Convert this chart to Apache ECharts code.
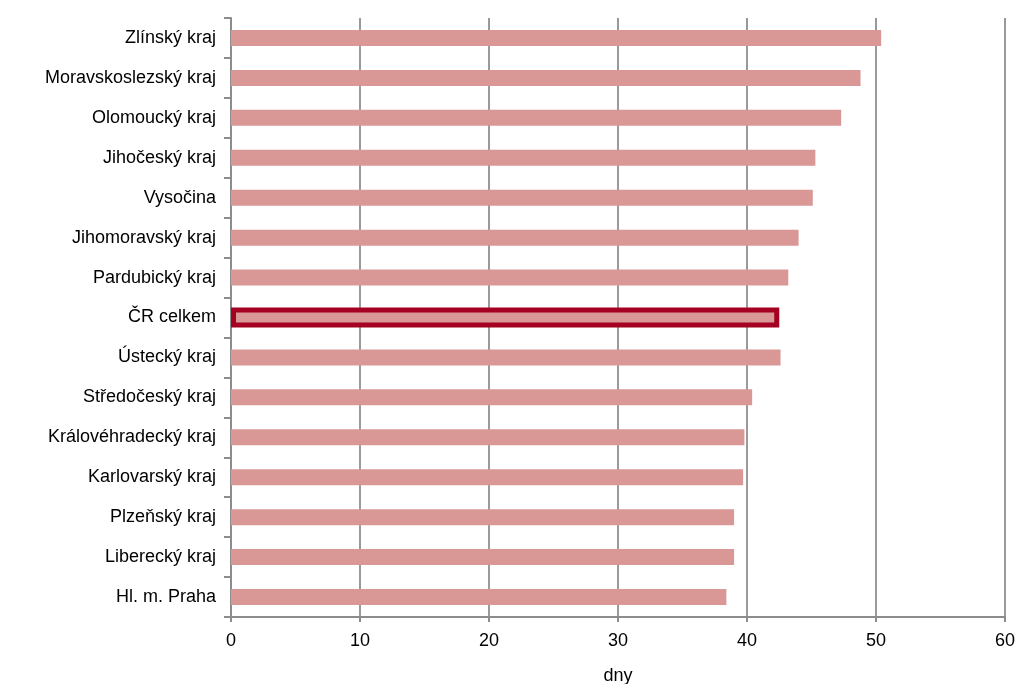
<!DOCTYPE html>
<html><head><meta charset="utf-8">
<script src="https://cdn.jsdelivr.net/npm/echarts@6/dist/echarts.min.js"></script>
<style>html,body{margin:0;padding:0;background:#fff}#c{width:1020px;height:684px}</style>
</head><body><div id="c"></div>
<script>
const categories = ["Zlínský kraj","Moravskoslezský kraj","Olomoucký kraj","Jihočeský kraj","Vysočina","Jihomoravský kraj","Pardubický kraj","ČR celkem","Ústecký kraj","Středočeský kraj","Královéhradecký kraj","Karlovarský kraj","Plzeňský kraj","Liberecký kraj","Hl. m. Praha"];
const values = [50.4, 48.8, 47.3, 45.3, 45.1, 44.0, 43.2, 42.5, 42.6, 40.4, 39.8, 39.7, 39.0, 39.0, 38.4];
const highlight = "ČR celkem";
const xTicks = {min: 0, max: 60, interval: 10};
const axisName = "dny";

const font = "'Liberation Sans', Arial, sans-serif";
const chart = echarts.init(document.getElementById('c'));
chart.setOption({
  animation: false,
  grid: {left: 231, right: 15, top: 18, bottom: 67, containLabel: false, outerBoundsMode: 'none'},
  xAxis: {
    type: 'value', min: xTicks.min, max: xTicks.max, interval: xTicks.interval,
    name: axisName, nameLocation: 'middle', nameGap: 50,
    nameTextStyle: {fontFamily: font, fontSize: 18, color: '#000'},
    axisLine: {show: true, lineStyle: {color: '#8c8c8c', width: 2}},
    axisTick: {show: true, length: 5, lineStyle: {color: '#8c8c8c', width: 2}},
    axisLabel: {fontFamily: font, fontSize: 18, color: '#000', margin: 15},
    splitLine: {show: true, lineStyle: {color: '#9a9a9a', width: 2}}
  },
  yAxis: [{
    type: 'category', data: categories, inverse: true,
    axisLine: {show: true, lineStyle: {color: '#8c8c8c', width: 2}},
    axisTick: {show: true, length: 7, lineStyle: {color: '#8c8c8c', width: 2}},
    axisLabel: {fontFamily: font, fontSize: 18, color: '#000', margin: 15},
    splitLine: {show: false}
  }, {
    type: 'category', data: categories, inverse: true, position: 'left',
    axisLine: {show: false}, axisTick: {show: false}, axisLabel: {show: false}, splitLine: {show: false}
  }],
  series: [{
    type: 'bar', barWidth: 16, yAxisIndex: 0,
    data: values.map((v, i) => categories[i] === highlight ? null : v),
    itemStyle: {color: '#d99795'}
  }, {
    type: 'bar', barWidth: 20, yAxisIndex: 1,
    data: values.map((v, i) => categories[i] === highlight ? v : null),
    itemStyle: {color: '#d99795', borderColor: '#a50021', borderWidth: 5}
  }]
});
</script></body></html>
